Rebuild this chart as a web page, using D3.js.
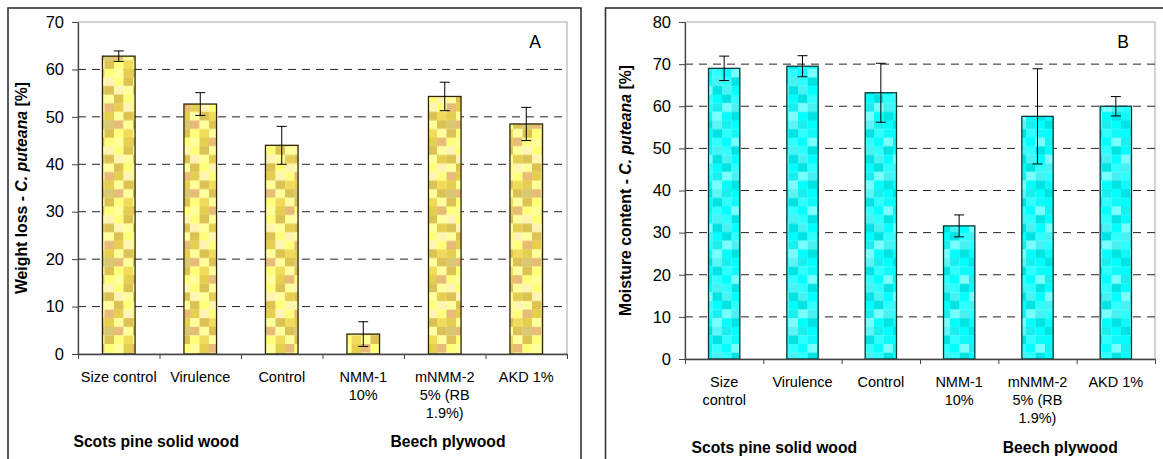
<!DOCTYPE html>
<html><head><meta charset="utf-8">
<script src="https://cdn.jsdelivr.net/npm/d3@7"></script>
<style>
html,body{margin:0;padding:0;background:#fff;}
svg{display:block;font-family:"Liberation Sans",Arial,sans-serif;}
</style></head>
<body><svg id="chart" width="1163" height="459"></svg>
<script>
// ---- data ----
const categories = ["Size control","Virulence","Control","NMM-1 10%","mNMM-2 5% (RB 1.9%)","AKD 1%"];
const labelLinesA = [["Size control"],["Virulence"],["Control"],["NMM-1","10%"],["mNMM-2","5% (RB","1.9%)"],["AKD 1%"]];
const labelLinesB = [["Size","control"],["Virulence"],["Control"],["NMM-1","10%"],["mNMM-2","5% (RB","1.9%)"],["AKD 1%"]];
const weightLoss = [62.8, 52.7, 44.0, 4.2, 54.3, 48.5];
const weightLossErr = [1.1, 2.4, 4.0, 2.6, 3.0, 3.5];
const moisture = [69.0, 69.5, 63.2, 31.6, 57.6, 60.0];
const moistureErr = [2.9, 2.5, 7.0, 2.6, 11.3, 2.3];
const ticksA = [0,10,20,30,40,50,60,70];
const ticksB = [0,10,20,30,40,50,60,70,80];
const groupLabels = ["Scots pine solid wood","Beech plywood"];
const colorsA = ["#FFFF9E","#FFFF7A","#E6CF4E","#DCC253","#E8BC78","#FFF4B4","#F0DC5A","#D9C873"];
const colorsB = ["#00FFFF","#2EFFFF","#7AFFFF","#00E3E3","#1AEFEF","#48F2F2","#10F8F8","#5CF5F5"];

const svg = d3.select("#chart");
const defs = svg.append("defs");

function makePattern(id, colors){
  const cw = 9.5, ch = 8.6, nc = 4, nr = 8;
  const p = defs.append("pattern").attr("id", id).attr("patternUnits","userSpaceOnUse")
    .attr("width", cw*nc).attr("height", ch*nr);
  const order = [
    [0,2,4,1],[1,3,0,5],[5,0,2,3],[3,1,5,0],
    [2,5,1,4],[0,3,6,2],[4,0,3,7],[1,6,0,3]
  ];
  for(let r=0;r<nr;r++) for(let c=0;c<nc;c++){
    p.append("rect").attr("x",c*cw).attr("y",r*ch).attr("width",cw+0.2).attr("height",ch+0.2)
     .attr("fill", colors[order[r][c] % colors.length]);
  }
}
makePattern("patA", colorsA);
makePattern("patB", colorsB);

function panel(cfg){
  const g = svg.append("g");
  g.append("rect").attr("x",cfg.frame[0]).attr("y",cfg.frame[1])
   .attr("width",cfg.frame[2]-cfg.frame[0]).attr("height",cfg.frame[3]-cfg.frame[1])
   .attr("fill","none").attr("stroke","#333").attr("stroke-width",1.6);

  const x = d3.scaleBand().domain(categories).range([cfg.left,cfg.right]).paddingInner(0.6).paddingOuter(0.3);
  const xb = d3.scaleLinear().domain([0,categories.length]).range([cfg.left,cfg.right]);
  const y = d3.scaleLinear().domain([0,cfg.max]).range([cfg.bottom,cfg.top]);

  g.append("rect").attr("x",cfg.left).attr("y",cfg.top).attr("width",cfg.right-cfg.left)
   .attr("height",cfg.bottom-cfg.top).attr("fill","none").attr("stroke","#a8a8a8").attr("stroke-width",1);

  g.append("g").selectAll("line").data(cfg.ticks.filter(t=>t>0 && t<cfg.max)).join("line")
   .attr("x1",cfg.left).attr("x2",cfg.right).attr("y1",d=>y(d)).attr("y2",d=>y(d))
   .attr("stroke","#222").attr("stroke-width",1).attr("stroke-dasharray","8,6");

  g.append("g").selectAll("rect").data(cfg.values).join("rect")
   .attr("x",(d,i)=>x(categories[i])).attr("width",x.bandwidth())
   .attr("y",d=>y(d)).attr("height",d=>y(0)-y(d))
   .attr("fill",`url(#${cfg.pattern})`).attr("stroke",cfg.barStroke).attr("stroke-width",1.3);

  const eg = g.append("g").attr("stroke","#000").attr("stroke-width",1);
  cfg.values.forEach((v,i)=>{
    const cx = x(categories[i]) + x.bandwidth()/2;
    const lo = v - cfg.err[i], hi = v + cfg.err[i];
    eg.append("line").attr("x1",cx).attr("x2",cx).attr("y1",y(lo)).attr("y2",y(hi));
    eg.append("line").attr("x1",cx-5).attr("x2",cx+5).attr("y1",y(lo)).attr("y2",y(lo));
    eg.append("line").attr("x1",cx-5).attr("x2",cx+5).attr("y1",y(hi)).attr("y2",y(hi));
  });

  const ya = g.append("g").attr("transform",`translate(${cfg.left},0)`)
    .call(d3.axisLeft(y).tickValues(cfg.ticks).tickSize(6).tickPadding(8).tickSizeOuter(0));
  ya.select(".domain").attr("stroke","#444").attr("stroke-width",1.3);
  ya.selectAll(".tick line").attr("stroke","#444");
  ya.selectAll("text").attr("font-size",16.5).attr("fill","#000").attr("font-family","Liberation Sans, Arial, sans-serif");

  const xa = g.append("g").attr("transform",`translate(0,${cfg.bottom})`)
    .call(d3.axisBottom(xb).tickValues(d3.range(categories.length+1)).tickFormat("").tickSize(5).tickSizeOuter(0));
  xa.select(".domain").attr("stroke","#444").attr("stroke-width",1.3);
  xa.selectAll(".tick line").attr("stroke","#444");

  const lg = g.append("g").attr("font-size",14.5).attr("text-anchor","middle").attr("fill","#000");
  cfg.labels.forEach((lines,i)=>{
    const t = lg.append("text").attr("x", x(categories[i]) + x.bandwidth()/2).attr("y", cfg.bottom + 28);
    lines.forEach((ln,j)=> t.append("tspan").attr("x", x(categories[i]) + x.bandwidth()/2).attr("dy", j===0?0:18).text(ln));
  });

  groupLabels.forEach((gl,i)=>{
    g.append("text").attr("x", xb(cfg.groupPos[i])).attr("y", cfg.groupY)
     .attr("text-anchor","middle").attr("font-weight","bold").attr("font-size",15.7).text(gl);
  });

  g.append("text").attr("x",cfg.letterX).attr("y",cfg.top+26).attr("font-size",17.5)
   .attr("text-anchor","middle").text(cfg.letter);

  const yt = g.append("text").attr("transform",`translate(${cfg.titleX},${(cfg.top+cfg.bottom)/2}) rotate(-90)`)
    .attr("text-anchor","middle").attr("font-weight","bold").attr("font-size",15.8).attr("dy","0.35em");
  yt.append("tspan").text(cfg.titlePre);
  yt.append("tspan").attr("font-style","italic").text("C. puteana");
  yt.append("tspan").text(" [%]");
}

panel({frame:[8,8,581,480], left:78, right:567, top:22, bottom:354, max:70, ticks:ticksA,
  values:weightLoss, err:weightLossErr, pattern:"patA", barStroke:"#2b2600", labels:labelLinesA,
  groupPos:[0.96,4.54], groupY:447, letter:"A", letterX:535, titleX:21, titlePre:"Weight loss - "});
panel({frame:[605.5,8,1180,480], left:685, right:1155, top:22, bottom:359, max:80, ticks:ticksB,
  values:moisture, err:moistureErr, pattern:"patB", barStroke:"#003a3a", labels:labelLinesB,
  groupPos:[1.14,4.79], groupY:453, letter:"B", letterX:1123, titleX:625, titlePre:"Moisture content - "});
</script></body></html>
